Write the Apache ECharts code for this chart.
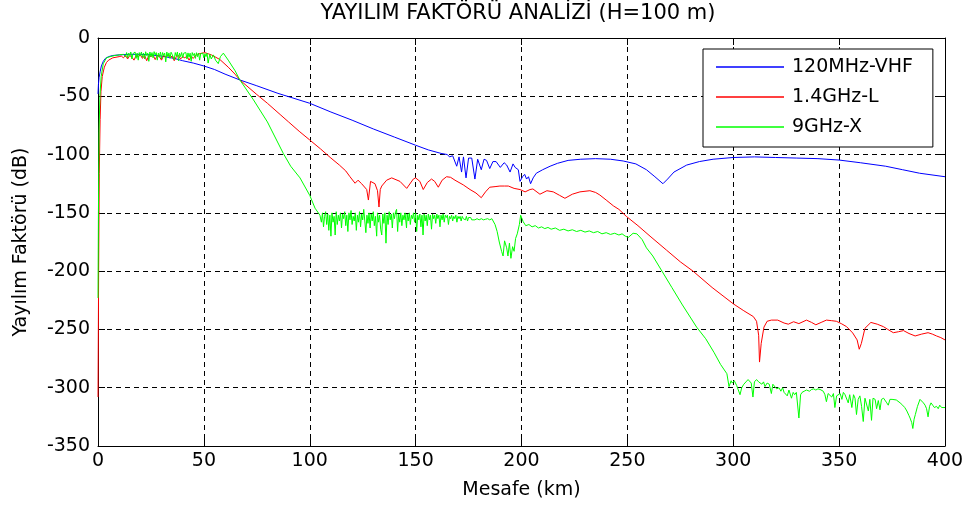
<!DOCTYPE html>
<html>
<head>
<meta charset="utf-8">
<script src="https://cdn.jsdelivr.net/npm/echarts@6/dist/echarts.min.js"></script>
<style>
html, body { margin: 0; padding: 0; background: #fff; }
#container { width: 970px; height: 510px; }
</style>
</head>
<body>
<div id="container"></div>
<script>
// [km, dB] pairs
var blueMain = [[0,-48],[0.2,-40],[0.5,-34],[1,-29],[1.6,-24],[2.5,-20],[3.5,-17.5],[5,-16],[7,-15],[10,-14.5],[15,-14],[20,-14],[25,-14.5],[30,-15.5],[36,-17.5],[40,-19.5],[45,-21.5],[50,-24],[55,-27],[60,-31],[67,-36],[75,-41],[85,-47.5],[100,-56],[110,-63.5],[120,-70.5],[130,-78],[140,-85],[150,-92],[156,-96],[162,-99],[165,-100]];
var blueRipple = [[166,-102],[167.5,-101],[169.4,-110],[170.5,-102],[171.7,-115],[172.6,-102],[173.8,-120],[175,-103],[176.5,-103],[178,-121],[179.3,-104],[181,-113],[182.3,-104],[183.5,-105],[185,-112],[186.5,-106],[188,-106],[190,-111],[191.8,-107],[193,-109],[194.6,-115],[196,-108],[197,-111],[198.5,-113],[199.3,-123],[200.5,-119],[201.5,-117],[202.4,-121],[203.3,-119],[204.3,-125],[205.5,-120]];
var blueTail = [[207,-116],[210,-113],[213.5,-110],[217,-107.5],[222,-105],[228,-104],[235,-103.5],[242,-104],[248,-105.5],[254,-108],[259,-113],[263,-119],[266.8,-125],[269,-121],[272,-115],[278,-109],[284,-106],[290.5,-104],[300,-102.5],[310,-102],[320,-102.5],[330,-103],[340,-103.5],[350,-104.7],[360,-107],[372,-110],[380,-113],[388,-116],[400,-119]];

var redMain = [[0,-308],[0.3,-200],[0.6,-116],[1,-70],[1.4,-46],[2,-33],[3,-25],[4,-21],[5,-19],[7,-17],[10,-16],[11,-15.5],[12,-17],[13,-15],[14,-18],[15,-15],[16,-16.5],[17,-19],[18,-15],[19,-16],[20,-14.5],[21,-17.5],[22,-15],[23,-19.5],[24,-15],[25,-16],[26,-14.5],[27,-18.5],[28,-15],[29,-16],[30,-19],[31,-15],[32,-16.5],[33,-14.5],[34,-17],[35,-15.5],[36,-19.5],[37,-16],[38,-15],[39,-18],[40,-16],[41,-17],[42,-15.5],[43,-19],[44,-16],[45,-17.5],[46,-15],[47,-14],[49,-13],[50.5,-12.6],[52,-13.5],[53.7,-14.6],[57.6,-18.5],[61.5,-25],[64.7,-31],[67,-36],[75,-48.5],[80,-56],[86,-65.6],[90,-72],[95,-80],[100,-87.5],[105,-95],[110,-103],[114,-109],[117,-114],[119,-119]];
var redRipple = [[121.4,-124.6],[122.8,-122],[124.5,-125],[126.9,-130],[127.7,-139],[128.7,-123],[130.8,-125],[132,-131],[132.7,-145],[133.3,-130],[134,-127],[136.3,-122],[138.7,-120],[142.6,-123],[145.8,-129],[148.9,-121],[150,-120],[152,-123],[153.6,-130],[155.5,-124],[157.5,-121],[159,-123],[160.7,-128],[162.5,-122],[164.6,-119],[166.5,-119.5],[168.6,-122],[172.5,-126],[175.7,-130],[178.5,-133],[181,-137],[183,-132],[185,-128],[187.5,-127.5],[189.8,-127],[192,-127],[193.8,-127],[196.5,-129],[199.3,-130],[201.7,-132],[204,-130],[205.4,-129.5],[208.7,-134],[212,-131],[215,-132],[218,-135],[220.5,-137.5],[224,-134],[227.6,-132],[232.3,-131],[235,-132.5],[237,-134.7],[240,-139],[243.4,-144],[246,-147]];
var redTail = [[249.5,-153],[255,-161],[260.7,-170],[268.5,-182],[275,-192],[281,-200],[290,-214],[300,-228],[305,-234],[309.5,-239],[311,-243],[312,-255],[312.4,-278],[313.2,-262],[314.5,-248],[316,-243],[318,-242],[321,-242],[324,-244.5],[326,-245.5],[328.5,-243.4],[331,-245],[334.6,-242],[337,-244],[339,-246],[341.5,-244],[344,-242],[346.5,-242.5],[348.7,-243],[351,-245],[353.5,-247.6],[356.4,-253],[358.5,-259],[359.5,-267],[360.5,-262],[362.2,-249],[365,-244],[368,-245.5],[370.9,-247.6],[373,-250],[375.6,-252.8],[378,-252],[380.4,-251],[383,-253.5],[385.9,-255.6],[389,-254],[392,-252.8],[394,-254],[396,-255.6],[398,-257],[400,-259]];

var greenRise = [[0,-223],[0.2,-150],[0.5,-80],[0.9,-50],[1.5,-33],[2.5,-22],[4,-17],[5.7,-16],[8,-15],[10,-14.5],[12,-14]];
var greenFlat = [[12.5,-13],[13,-16],[13.5,-12.5],[14,-17],[14.5,-13],[15,-15],[15.5,-12],[16,-18],[16.5,-13.5],[17,-14],[17.5,-12],[18,-17.5],[18.5,-13],[19,-19],[19.5,-12.5],[20,-15],[20.5,-12],[21,-16.5],[21.5,-13],[22,-18],[22.5,-11.8],[23,-15],[23.5,-13],[24,-20],[24.5,-12],[25,-16],[25.5,-12.5],[26,-17],[26.5,-11.7],[27,-14.5],[27.5,-12.5],[28,-19],[28.5,-13],[29,-16],[29.5,-12],[30,-18],[30.5,-12.5],[31,-15],[31.5,-13],[32,-20.5],[32.5,-12],[33,-16],[33.5,-12.8],[34,-17.5],[34.5,-12.2],[35,-14],[35.5,-13],[36,-18.5],[36.5,-12.5],[37,-15.5],[37.5,-12],[38,-19.5],[38.5,-13],[39,-16],[39.5,-12.4],[40,-17],[40.5,-13],[41,-14.5],[41.5,-12.5],[42,-18],[42.5,-12.8],[43,-16.5],[43.5,-13],[44,-20],[44.5,-12.5],[45,-15],[45.5,-13.2],[46,-17.5],[46.5,-12.6],[47,-16],[47.5,-13],[48,-19],[48.5,-13.5],[49,-14.6],[49.5,-13],[50,-17],[50.5,-13.5],[51,-16],[51.5,-13],[52,-21.5],[52.8,-14],[53.5,-18],[54.5,-14.5],[55.5,-19],[56.8,-22],[57.8,-16],[59.2,-13]];
var greenDrop = [[61.5,-19],[64.7,-28],[67,-36],[73.4,-53],[80,-72],[87.5,-99],[91,-110],[95.4,-120],[100,-135],[102.5,-146],[104.8,-152]];
var greenNoise = [[105.5,-158],[106,-150],[106.5,-162],[107,-153],[107.5,-149],[108,-160],[108.5,-151],[109,-165],[109.5,-152],[110,-170],[110.5,-150],[111,-158],[111.5,-153],[112,-169],[112.5,-149],[113,-160],[113.5,-152],[114,-157],[114.5,-150],[115,-163],[115.5,-151],[116,-155],[116.5,-149],[117,-161],[117.5,-152],[118,-166],[118.5,-150],[119,-156],[119.5,-148],[120,-160],[120.5,-153],[121,-157],[121.5,-150],[122,-165],[122.5,-152],[123,-158],[123.5,-149],[124,-162],[124.5,-151],[125,-156],[125.5,-147],[126,-148],[126.5,-167],[127,-152],[127.5,-159],[128,-150],[128.5,-163],[129,-151],[129.5,-157],[130,-149],[130.5,-161],[131,-153],[131.6,-170],[132,-150],[132.5,-158],[133,-152],[133.5,-164],[134,-169],[134.5,-151],[135,-159],[135.5,-150],[136,-176],[136.5,-152],[137,-160],[137.5,-149],[138,-156],[138.5,-151],[139,-163],[139.5,-150],[140,-155],[140.5,-149],[141,-147],[141.5,-166],[142,-151],[142.5,-158],[143,-150],[143.5,-161],[144,-152],[144.5,-156],[145,-150],[145.7,-163],[146,-151],[146.5,-157],[147,-150],[147.5,-160],[148,-152],[148.5,-155],[149,-150],[149.5,-158],[150,-150],[150.5,-166],[151,-152],[151.5,-156],[152,-151],[152.5,-162],[153,-152],[153.5,-169],[154,-151],[154.5,-157],[155,-152],[155.5,-161],[156,-151],[156.5,-156],[157,-152],[157.5,-164],[158,-151],[158.5,-155],[159,-152],[159.5,-159],[160,-151],[160.5,-155],[161,-152],[161.5,-162],[162,-152],[162.5,-156],[163,-151],[163.5,-158],[164,-152],[164.5,-154],[165,-152],[165.5,-160],[166,-153],[166.5,-155],[167,-152],[167.5,-157],[168,-153],[168.5,-155],[169,-152],[169.5,-158],[170,-153],[170.5,-155],[171,-153],[171.5,-157],[172,-153],[172.5,-155],[173,-154],[173.5,-156],[174,-153],[174.5,-157],[175,-154],[175.5,-155],[176,-154],[176.5,-156],[177,-155],[178,-156],[179,-155],[180,-156],[181,-155],[182,-156],[183,-155.5],[184,-155],[185,-156]];
var greenDip = [[186,-155],[187.5,-160],[188.5,-166],[189.5,-175],[190.6,-183],[191.3,-187],[192,-174],[193,-180],[193.6,-187],[194.3,-176],[195,-189],[195.8,-179],[196.5,-183],[197.2,-172],[198,-168],[199,-160],[199.6,-152],[200.8,-157.6]];
var greenShelf = [[202,-161],[203.5,-160],[205,-162],[206.5,-161],[208,-163],[209.5,-162],[211,-163.5],[212.5,-162.5],[214,-164],[216,-163],[218,-165],[220,-164],[222,-165.5],[224,-164.5],[226,-166],[228,-165],[230,-166.5],[232,-165.5],[234,-167],[236,-166],[238,-168],[240,-167],[242,-168.5],[244,-167.5],[246,-169],[247.5,-168],[249,-170],[250.5,-171],[252.7,-167.5],[254.5,-168],[257,-173],[259,-180],[262,-187],[266,-199],[271,-214],[276,-229],[282.7,-248],[287,-258],[291,-270],[294,-280],[297,-288],[298,-299],[299,-294]];
var greenTail = [[299.5,-296],[300.5,-294],[301.6,-298],[302.5,-297],[303.2,-306],[304,-300],[305,-297],[306,-295],[307,-293],[307.8,-292],[308.5,-296],[309.3,-308],[310,-295],[311,-293],[312,-295],[312.6,-294],[313.5,-297],[314.3,-295],[315,-299],[316,-296],[317,-297],[318,-305],[318.7,-297],[319.5,-298],[320.5,-301],[321.6,-300],[322.5,-303],[323.3,-300],[324,-304],[324.8,-303],[325.5,-307],[326.3,-302],[327.5,-309],[328.3,-304],[329,-306],[329.8,-304],[331,-326],[331.8,-306],[332.5,-304],[333.5,-303],[334.6,-302],[336,-303],[337,-301.5],[338,-301],[339,-302],[340,-301],[341,-301.5],[342.5,-303],[343.3,-306],[344,-312],[344.8,-305],[345.7,-304],[346.5,-308],[347.3,-305],[348,-317],[348.8,-307],[349.6,-306],[350.5,-305],[351.3,-310],[352,-304],[352.8,-306],[353.5,-305],[354.3,-313],[355,-306],[356,-317],[356.8,-306],[357.5,-309],[358.2,-323],[359,-310],[359.8,-307],[360.6,-316],[361.4,-329],[362.2,-309],[363,-308],[363.8,-320],[364.5,-310],[365.3,-328],[366,-309],[367,-310],[367.7,-318],[368.5,-311],[369.3,-319],[370,-310],[371,-309],[371.7,-309],[372.5,-313],[373.2,-315],[374,-310],[375,-310],[375.6,-309],[377,-310.5],[378.8,-313],[380,-315],[381,-317],[382,-320],[383,-324],[383.5,-326],[384.3,-330],[384.8,-335],[385.4,-327],[386,-323],[387,-316],[388.2,-310],[389,-311],[389.8,-313],[390.6,-315],[391.3,-318],[392,-325],[392.7,-316],[393.4,-313],[394.2,-315],[395,-317],[396,-316],[396.8,-318],[397.5,-315],[398.4,-317],[399.2,-316],[400,-317]];

var seriesNames = ['120MHz-VHF', '1.4GHz-L', '9GHz-X'];
var seriesColors = ['#0000ff', '#ff0000', '#00ff00'];

var blueData = blueMain.concat(blueRipple, blueTail);
var redData = redMain.concat(redRipple, redTail);
var greenData = greenRise.concat(greenFlat, greenDrop, greenNoise, greenDip, greenShelf, greenTail);

var dom = document.getElementById('container');
var myChart = echarts.init(dom);
var font = 'DejaVu Sans';

var gridDash = { show: true, lineStyle: { color: '#000', width: 1, type: [5, 4] } };

var option = {
    backgroundColor: '#fff',
    animation: false,
    title: {
        text: 'YAYILIM FAKTÖRÜ ANALİZİ (H=100 m)',
        left: 518,
        top: 3,
        padding: 0,
        textAlign: 'center',
        textStyle: { fontFamily: font, fontSize: 21, fontWeight: 'normal', color: '#000' }
    },
    legend: {
        data: seriesNames.map(function (n) { return { name: n, icon: 'rect' }; }),
        orient: 'vertical',
        left: 703,
        top: 49,
        itemWidth: 68,
        itemHeight: 1.5,
        itemGap: 10,
        padding: [8, 20, 10, 13],
        borderColor: '#000',
        borderWidth: 1,
        borderRadius: 0,
        backgroundColor: '#fff',
        textStyle: { fontFamily: font, fontSize: 19, lineHeight: 20, color: '#000', padding: [0, 0, 0, 3] }
    },
    grid: { left: 98, right: 25, top: 38, bottom: 64, containLabel: false },
    xAxis: [{
        type: 'value', min: 0, max: 400, interval: 50,
        name: 'Mesafe (km)', nameLocation: 'middle', nameGap: 35,
        nameTextStyle: { fontFamily: font, fontSize: 19, color: '#000' },
        axisLine: { show: true, onZero: false, lineStyle: { color: '#000', width: 1 } },
        axisTick: { show: true, inside: true, length: 7, lineStyle: { color: '#000' } },
        axisLabel: { margin: 6, fontFamily: font, fontSize: 19, color: '#000' },
        splitLine: gridDash
    }, {
        type: 'value', position: 'top', min: 0, max: 400, interval: 50,
        axisLine: { show: true, onZero: false, lineStyle: { color: '#000', width: 1 } },
        axisTick: { show: true, inside: true, length: 7, lineStyle: { color: '#000' } },
        axisLabel: { show: false },
        splitLine: { show: false }
    }],
    yAxis: [{
        type: 'value', min: -350, max: 0, interval: 50,
        name: 'Yayılım Faktörü (dB)', nameLocation: 'middle', nameGap: 67,
        nameTextStyle: { fontFamily: font, fontSize: 19, color: '#000' },
        axisLine: { show: true, onZero: false, lineStyle: { color: '#000', width: 1 } },
        axisTick: { show: true, inside: true, length: 7, lineStyle: { color: '#000' } },
        axisLabel: { margin: 8, fontFamily: font, fontSize: 19, color: '#000' },
        splitLine: gridDash
    }, {
        type: 'value', position: 'right', min: -350, max: 0, interval: 50,
        axisLine: { show: true, onZero: false, lineStyle: { color: '#000', width: 1 } },
        axisTick: { show: true, inside: true, length: 7, lineStyle: { color: '#000' } },
        axisLabel: { show: false },
        splitLine: { show: false }
    }],
    series: [
        { name: seriesNames[0], type: 'line', data: blueData, showSymbol: false, symbol: 'none',
          lineStyle: { color: seriesColors[0], width: 1 }, itemStyle: { color: seriesColors[0] } },
        { name: seriesNames[1], type: 'line', data: redData, showSymbol: false, symbol: 'none',
          lineStyle: { color: seriesColors[1], width: 1 }, itemStyle: { color: seriesColors[1] } },
        { name: seriesNames[2], type: 'line', data: greenData, showSymbol: false, symbol: 'none',
          lineStyle: { color: seriesColors[2], width: 1 }, itemStyle: { color: seriesColors[2] } }
    ]
};

if (option && typeof option === 'object') {
    myChart.setOption(option, true);
}
</script>
</body>
</html>
